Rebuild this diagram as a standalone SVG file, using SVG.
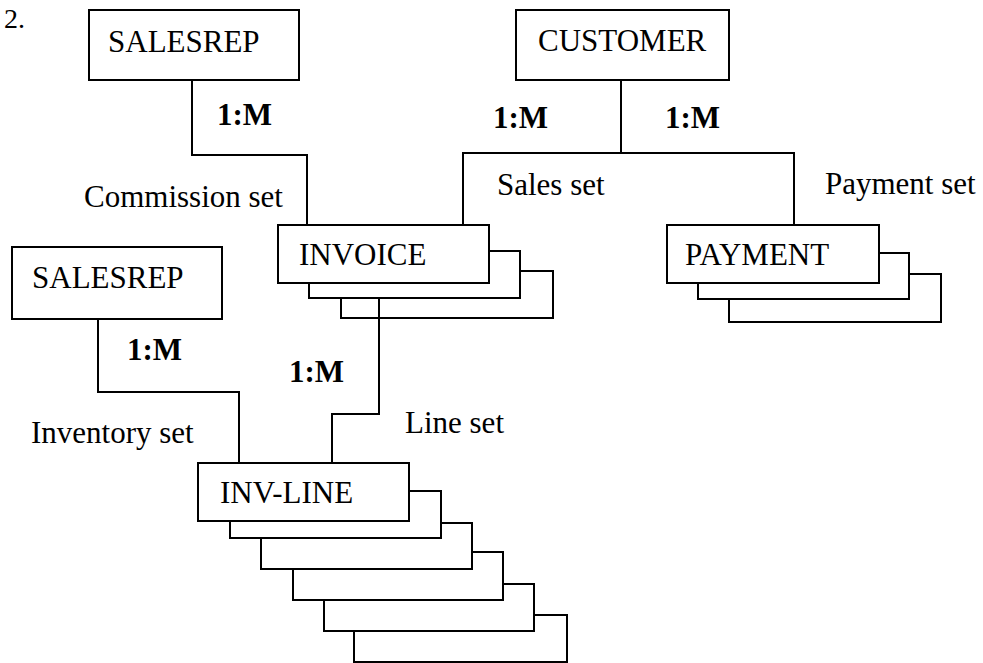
<svg xmlns="http://www.w3.org/2000/svg" width="983" height="663" viewBox="0 0 983 663">
<style>
rect{fill:#fff;stroke:#000;stroke-width:2}
.c{fill:none;stroke:#000;stroke-width:2}
text{font-family:"Liberation Serif","Times New Roman",serif;font-size:31px;fill:#000}
.b{font-weight:bold}
</style>
<rect x="0" y="0" width="983" height="663" style="stroke:none"/>
<text x="4" y="28" style="font-size:28px">2.</text>
<g id="salesrep1"><rect x="89" y="10" width="210" height="70"/><text x="108" y="52">SALESREP</text></g>
<g id="customer"><rect x="516" y="10" width="213" height="70"/><text x="538" y="51">CUSTOMER</text></g>
<g id="invoice">
<rect x="341" y="271" width="212" height="47"/>
<rect x="309" y="251" width="211" height="47"/>
<rect x="278" y="225" width="211" height="58"/>
<text x="299" y="265">INVOICE</text>
</g>
<g id="payment">
<rect x="729" y="274" width="212" height="48"/>
<rect x="698" y="253" width="211" height="46"/>
<rect x="667" y="225" width="212" height="58"/>
<text x="685" y="265">PAYMENT</text>
</g>
<g id="salesrep2"><rect x="12" y="247" width="210" height="72"/><text x="32" y="288">SALESREP</text></g>
<g id="invline">
<rect x="354" y="615" width="213" height="47"/>
<rect x="324" y="584" width="210" height="47"/>
<rect x="293" y="552" width="210" height="48"/>
<rect x="261" y="523" width="211" height="46"/>
<rect x="230" y="491" width="211" height="47"/>
<rect x="198" y="463" width="211" height="58"/>
<text x="220" y="503">INV-LINE</text>
</g>
<g id="connectors">
<path class="c" d="M192,80 V155 H307 V225"/>
<path class="c" d="M621,80 V153"/>
<path class="c" d="M463,225 V153 H794 V225"/>
<path class="c" d="M98,319 V392 H239 V463"/>
<path class="c" d="M379,298 V414 H332 V463"/>
</g>
<g id="labels">
<text class="b" x="217" y="125">1:M</text>
<text class="b" x="493" y="128">1:M</text>
<text class="b" x="665" y="128">1:M</text>
<text class="b" x="127" y="360">1:M</text>
<text class="b" x="289" y="382">1:M</text>
<text x="84" y="207">Commission set</text>
<text x="497" y="195">Sales set</text>
<text x="825" y="194">Payment set</text>
<text x="31" y="443">Inventory set</text>
<text x="405" y="433">Line set</text>
</g>
</svg>
